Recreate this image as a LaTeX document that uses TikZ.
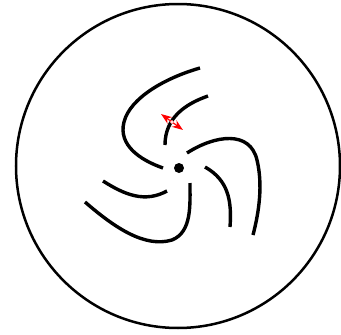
\documentclass[tikz,border=0pt]{standalone}
\usetikzlibrary{arrows.meta}
\begin{document}
\begin{tikzpicture}[x=1pt,y=-1pt,
  curve/.style={line width=3.4pt},
  redarrow/.style={red,line width=1.2pt,{Stealth[length=11pt,width=8pt]}-{Stealth[length=11pt,width=8pt]}}]
\useasboundingbox (0,0) rectangle (341,335);
\draw[line width=2.5pt] (178,166) circle (162);
\draw[curve] (200,68) .. controls (165,78) and (130,98) .. (124,122) .. controls (118,145) and (140,160) .. (163,168);
\draw[curve] (208,96) .. controls (185,104) and (165,118) .. (165,145);
\draw[curve] (187,153) .. controls (215,135) and (250,130) .. (257,160) .. controls (263,185) and (259,212) .. (253,235);
\draw[curve] (205,167) .. controls (228,180) and (232,200) .. (230,227);
\draw[curve] (85,202) .. controls (115,228) and (145,248) .. (172,240) .. controls (192,232) and (190,205) .. (190,183);
\draw[curve] (103,181) .. controls (125,195) and (145,203) .. (167,191);
\fill (179,168) circle (5);
\coordinate (ra) at (161,114);
\coordinate (rb) at (183,130);
\draw[redarrow] (ra) -- (rb);
\draw[red!60,line width=0.6pt,fill=white] (172,122) circle (1.8);
\end{tikzpicture}
\end{document}
